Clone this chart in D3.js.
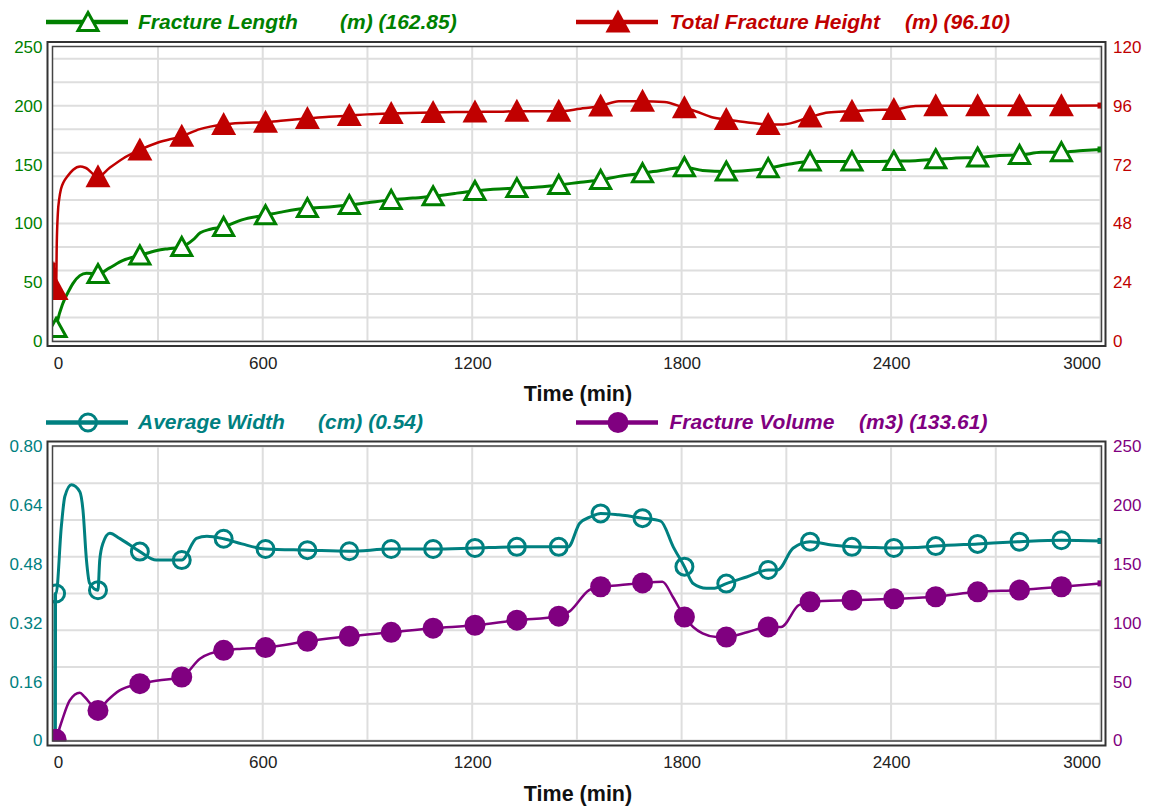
<!DOCTYPE html>
<html>
<head>
<meta charset="utf-8">
<script src="https://cdn.jsdelivr.net/npm/d3@7"></script>
<style>
  html, body { margin: 0; padding: 0; background: #ffffff; }
  svg { display: block; font-family: "Liberation Sans", Arial, sans-serif; }
</style>
</head>
<body>
<svg id="chart" width="1152" height="810"></svg>
<script>
// ---------------- data ----------------
const xTicks = [0, 600, 1200, 1800, 2400, 3000];
const xGrid = [300, 600, 900, 1200, 1500, 1800, 2100, 2400, 2700, 3000];
const markerTimes = [8,128,248,368,488,608,728,848,968,1088,1208,1328,1448,1568,1688,1808,1928,2048,2168,2288,2408,2528,2648,2768,2888];

const lengthTicks = [0, 50, 100, 150, 200, 250];
const heightTicks = [0, 24, 48, 72, 96, 120];
const widthTicks = [0, 0.16, 0.32, 0.48, 0.64, 0.80];
const volumeTicks = [0, 50, 100, 150, 200, 250];

// Fracture Length (m) [time, value]
const fractureLength = [[8,11],[12,17],[27,31.7],[45,43],[56,48.8],[76,55.6],[95,57.6],[110,57.5],[128,57],[160,62],[200,68.5],[248,72.8],[297,77],[330,78.5],[368,80],[400,86],[421,92],[450,95],[488,97],[540,103],[608,107],[660,110],[728,113],[790,114],[848,115.6],[900,117.5],[968,120],[1030,121.5],[1088,123],[1150,125.5],[1208,127.6],[1260,129],[1328,130],[1390,131],[1448,132.7],[1510,135],[1568,137],[1620,140],[1688,142.7],[1750,145.5],[1808,147.8],[1860,145],[1928,144.1],[1990,145],[2048,147],[2110,150.5],[2168,152.7],[2230,152.7],[2288,152.7],[2350,152.7],[2408,153],[2470,153.3],[2528,154.5],[2580,155.5],[2648,156],[2710,157.8],[2768,158.2],[2830,160.4],[2888,160.6],[2950,162],[3000,162.85]];

// Total Fracture Height (m)
const fractureHeight = [[1,21],[2,32],[3,21],[8,21],[10,40],[13,52],[17,58],[22,62],[30,65],[40,67.1],[57,69.9],[77,71.2],[92,70.7],[128,67],[160,70.5],[200,74.5],[248,78],[300,81],[368,83.6],[420,86.5],[488,88.4],[540,89],[608,89.3],[660,90],[728,90.8],[790,91.5],[848,92],[900,92.5],[968,92.9],[1088,93.3],[1208,93.5],[1280,93.6],[1328,93.8],[1390,93.8],[1448,93.8],[1510,94.8],[1568,95.9],[1620,97.9],[1688,97.9],[1750,97.6],[1808,95.2],[1840,93.8],[1890,91.2],[1928,90.4],[1990,89.2],[2048,88.4],[2090,88.4],[2168,91.4],[2220,93.3],[2288,93.8],[2350,94.3],[2408,94.5],[2470,95.9],[2528,96],[2648,96],[2768,96],[2888,96],[3000,96.1]];

// Average Width (cm)
const averageWidth = [[4.5,0.02],[5,0.40],[6,0.03],[6.5,0.40],[8,0.40],[23,0.582],[33,0.664],[52,0.696],[76,0.677],[85,0.627],[95,0.491],[104,0.428],[128,0.409],[133,0.491],[142,0.536],[162,0.564],[190,0.55],[248,0.514],[295,0.491],[368,0.491],[410,0.55],[440,0.556],[488,0.549],[540,0.535],[608,0.521],[728,0.518],[848,0.515],[968,0.521],[1088,0.521],[1208,0.524],[1328,0.527],[1448,0.527],[1475,0.527],[1508,0.591],[1540,0.609],[1568,0.618],[1620,0.614],[1688,0.605],[1740,0.597],[1776,0.527],[1808,0.473],[1833,0.427],[1871,0.414],[1890,0.414],[1928,0.427],[1986,0.445],[2048,0.464],[2075,0.464],[2119,0.523],[2168,0.541],[2230,0.532],[2288,0.527],[2350,0.525],[2408,0.524],[2470,0.525],[2528,0.529],[2648,0.535],[2768,0.541],[2888,0.545],[3000,0.543]];

// Fracture Volume (m3)
const fractureVolume = [[8,1],[25,17],[47,34],[76,40.6],[90,37],[128,25.6],[155,34],[190,42.6],[248,48.3],[300,51],[368,54],[420,69.6],[488,76.7],[540,78],[608,79],[728,84.4],[848,88.6],[968,92],[1088,95.5],[1208,98],[1328,102.3],[1448,105.7],[1480,110],[1535,127.9],[1568,130.7],[1620,132],[1688,134],[1745,135],[1775,122],[1808,105],[1860,91],[1900,88],[1928,88],[1990,92.3],[2048,96.6],[2085,96.6],[2135,115],[2168,117.9],[2288,119.3],[2408,120.5],[2528,122.2],[2648,126.4],[2768,127.9],[2888,130.7],[3000,133.61]];

const legendTop = [
  {name: "Fracture Length", unit: "(m) (162.85)", color: "#008000", marker: "triOpen"},
  {name: "Total Fracture Height", unit: "(m) (96.10)", color: "#c00000", marker: "triFill"}
];
const legendBottom = [
  {name: "Average Width", unit: "(cm) (0.54)", color: "#008080", marker: "circOpen"},
  {name: "Fracture Volume", unit: "(m3) (133.61)", color: "#800080", marker: "circFill"}
];

// ---------------- drawing ----------------
const svg = d3.select("#chart");
const X0 = 53.3, X1 = 1100.5;
const IN_L = 52.5, IN_R = 1101.5;
const OUT_L = 47.5, OUT_R = 1105.5;

const x = d3.scaleLinear().domain([0, 3000]).range([X0, X1]);

function markerPath(type) {
  if (type === "triOpen") return "M0,-10L10,8L-10,8Z";
  if (type === "triFill") return "M0,-12.5L12.5,10.5L-12.5,10.5Z";
  return null;
}

function drawMarker(g, type, color, cx, cy) {
  if (type === "triOpen") {
    g.append("path").attr("d", markerPath(type)).attr("transform", `translate(${cx},${cy+0.5})`)
      .attr("fill", "#fff").attr("stroke", color).attr("stroke-width", 3).attr("stroke-linejoin", "miter");
  } else if (type === "triFill") {
    g.append("path").attr("d", markerPath(type)).attr("transform", `translate(${cx},${cy})`)
      .attr("fill", color).attr("stroke", "none");
  } else if (type === "circOpen") {
    g.append("circle").attr("cx", cx).attr("cy", cy).attr("r", 8.5)
      .attr("fill", "none").attr("stroke", color).attr("stroke-width", 3);
  } else {
    g.append("circle").attr("cx", cx).attr("cy", cy).attr("r", 10.5).attr("fill", color);
  }
}

function panel(opts) {
  const {top, bottom, yL, yR, leftTicks, rightTicks, leftFmt, rightFmt, series, legend, legendY, id} = opts;
  const g = svg.append("g");

  const clipId = "clip" + id;
  svg.append("defs").append("clipPath").attr("id", clipId)
    .append("rect").attr("x", IN_L).attr("y", top - 0.5).attr("width", IN_R - IN_L).attr("height", bottom - top + 1.5);

  g.append("g").selectAll("line").data(yL.ticks(10)).join("line")
    .attr("x1", IN_L).attr("x2", IN_R)
    .attr("y1", d => yL(d)).attr("y2", d => yL(d))
    .attr("stroke", "#dedede").attr("stroke-width", 2);
  g.append("g").selectAll("line").data(xGrid).join("line")
    .attr("x1", d => x(d)).attr("x2", d => x(d))
    .attr("y1", top).attr("y2", bottom)
    .attr("stroke", "#dedede").attr("stroke-width", 2);

  const plot = g.append("g").attr("clip-path", `url(#${clipId})`);
  series.forEach(s => {
    const y = s.axis === "L" ? yL : yR;
    const line = d3.line().x(d => x(d[0])).y(d => y(d[1])).curve(d3.curveMonotoneX);
    plot.append("path").datum(s.data).attr("d", line)
      .attr("fill", "none").attr("stroke", s.color).attr("stroke-width", s.width)
      .attr("stroke-linejoin", "round");
    const last = s.data[s.data.length - 1];
    plot.append("rect").attr("x", x(last[0]) - 3).attr("y", y(last[1]) - 3).attr("width", 6).attr("height", 6).attr("fill", s.color);
  });
  series.forEach(s => {
    const y = s.axis === "L" ? yL : yR;
    const pts = s.data.filter(d => markerTimes.includes(d[0]));
    pts.forEach(d => drawMarker(plot, s.marker, s.color, x(d[0]), y(d[1])));
  });

  g.append("rect").attr("x", OUT_L).attr("y", top - 5).attr("width", OUT_R - OUT_L).attr("height", bottom - top + 10)
    .attr("fill", "none").attr("stroke", "#333").attr("stroke-width", 2);
  g.append("rect").attr("x", IN_L).attr("y", top - 0.5).attr("width", IN_R - IN_L).attr("height", bottom - top + 1)
    .attr("fill", "none").attr("stroke", "#444").attr("stroke-width", 1.5);

  const aL = g.append("g").attr("transform", `translate(42.5,0)`)
    .call(d3.axisLeft(yL).tickValues(leftTicks).tickSize(0).tickPadding(0).tickFormat(leftFmt));
  aL.select(".domain").remove();
  aL.selectAll("text").attr("fill", series[0].color).style("font-size", "17px");

  const aR = g.append("g").attr("transform", `translate(1113,0)`)
    .call(d3.axisRight(yR).tickValues(rightTicks).tickSize(0).tickPadding(0).tickFormat(rightFmt));
  aR.select(".domain").remove();
  aR.selectAll("text").attr("fill", series[1].color).style("font-size", "17px");

  const aB = g.append("g").attr("transform", `translate(0,${bottom + 15.5})`)
    .call(d3.axisBottom(x).tickValues(xTicks).tickSize(0).tickPadding(0).tickFormat(d3.format("d")));
  aB.select(".domain").remove();
  aB.selectAll("text").attr("fill", "#222").style("font-size", "17px")
    .attr("text-anchor", (d, i) => i === 0 ? "start" : (i === xTicks.length - 1 ? "end" : "middle"));

  g.append("text").attr("x", 578).attr("y", bottom + 60)
    .attr("text-anchor", "middle").attr("fill", "#111")
    .style("font-size", "21.5px").style("font-weight", "bold").text("Time (min)");

  const lx = [46, 576];
  const tx = [138, 669.5];
  const ux = opts.unitX;
  legend.forEach((L, i) => {
    const lg = g.append("g");
    lg.append("line").attr("x1", lx[i]).attr("x2", lx[i] + 82).attr("y1", legendY).attr("y2", legendY)
      .attr("stroke", L.color).attr("stroke-width", 4.5);
    drawMarker(lg, L.marker, L.color, lx[i] + 42, legendY);
    lg.append("text").attr("x", tx[i]).attr("y", legendY + 6.5)
      .attr("fill", L.color).style("font-size", "21px").style("font-weight", "bold").style("font-style", "italic")
      .text(L.name);
    lg.append("text").attr("x", ux[i]).attr("y", legendY + 6.5)
      .attr("fill", L.color).style("font-size", "21px").style("font-weight", "bold").style("font-style", "italic")
      .text(L.unit);
  });
}

const topT = 47, topB = 341;
panel({
  id: "top", top: topT, bottom: topB,
  yL: d3.scaleLinear().domain([0, 250]).range([topB, topT]),
  yR: d3.scaleLinear().domain([0, 120]).range([topB, topT]),
  leftTicks: lengthTicks, rightTicks: heightTicks,
  leftFmt: d3.format("d"), rightFmt: d3.format("d"),
  series: [
    {data: fractureLength, axis: "L", color: "#008000", width: 3, marker: "triOpen"},
    {data: fractureHeight, axis: "R", color: "#c00000", width: 2.5, marker: "triFill"}
  ],
  legend: legendTop, legendY: 22, unitX: [340, 905]
});

const botT = 446.5, botB = 740.5;
panel({
  id: "bot", top: botT, bottom: botB,
  yL: d3.scaleLinear().domain([0, 0.8]).range([botB, botT]),
  yR: d3.scaleLinear().domain([0, 250]).range([botB, botT]),
  leftTicks: widthTicks, rightTicks: volumeTicks,
  leftFmt: d => d === 0 ? "0" : d3.format(".2f")(d), rightFmt: d3.format("d"),
  series: [
    {data: averageWidth, axis: "L", color: "#008080", width: 3, marker: "circOpen"},
    {data: fractureVolume, axis: "R", color: "#800080", width: 2.5, marker: "circFill"}
  ],
  legend: legendBottom, legendY: 422.5, unitX: [318, 859]
});
</script>
</body>
</html>
